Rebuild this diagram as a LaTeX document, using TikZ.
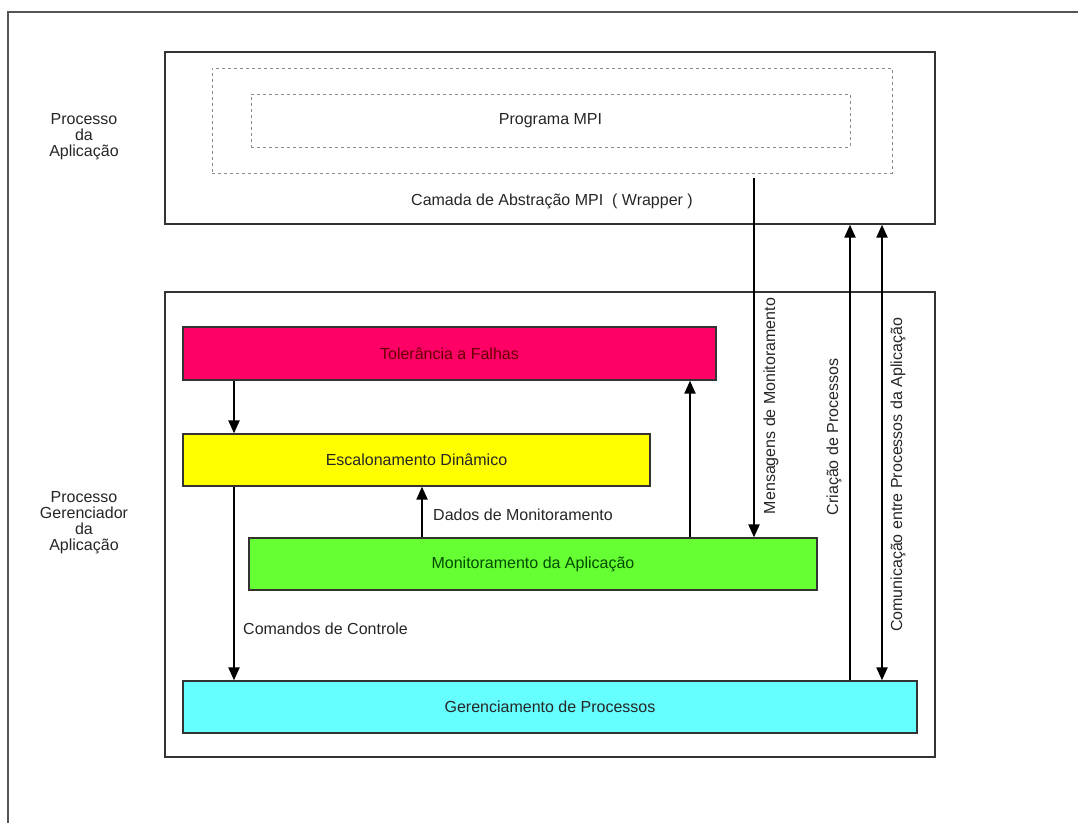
\documentclass[tikz,border=0pt]{standalone}
\usepackage{fontspec}
\setmainfont{Liberation Sans}
\usetikzlibrary{arrows.meta}
\definecolor{tolfill}{HTML}{FF0066}
\definecolor{escfill}{HTML}{FFFF00}
\definecolor{monfill}{HTML}{66FF33}
\definecolor{gerfill}{HTML}{66FFFF}
\definecolor{frameline}{HTML}{555555}
\definecolor{boxline}{HTML}{333333}
\begin{document}
\begin{tikzpicture}[x=1pt,y=-1pt,
  every node/.style={font=\fontsize{16}{16}\selectfont, text=black!85},
  region/.style={draw=boxline, line width=1.3pt, inner sep=0pt},
  dotbox/.style={draw=black!45, line width=1pt, dash pattern=on 3pt off 3pt, inner sep=0pt},
  module/.style={draw=boxline, line width=1.3pt, inner sep=0pt},
  flow/.style={line width=2.2pt, -{Triangle[length=13pt,width=11pt]}},
  plain/.style={line width=2.2pt},
  lbl/.style={inner sep=0pt}
]
\useasboundingbox (0,0) rectangle (1078,823);
% outer frame
\draw[frameline, line width=1.2pt] (8,823) -- (8,12) -- (1077.5,12);

% application process
\node[region, minimum width=770pt, minimum height=172pt] (app) at (550,138) {};
\node[dotbox, minimum width=680pt, minimum height=105pt] (wrap) at (552,120.5) {};
\node[dotbox, minimum width=599pt, minimum height=53pt] (prog) at (550.5,120.5) {Programa MPI};
\node[lbl] (wraptxt) at (552,201) {Camada de Abstração MPI\ \ ( Wrapper )};
\node[lbl, align=center] (procapp) at (84,137) {Processo\\da\\Aplicação};

% manager process
\node[region, minimum width=770pt, minimum height=465pt] (mgr) at (550,524.5) {};
\node[lbl, align=center] (procmgr) at (84,523) {Processo\\Gerenciador\\da\\Aplicação};

\node[module, fill=tolfill, minimum width=533pt, minimum height=53pt, text=black!60!red] (tol) at (449.5,353.5) {Tolerância a Falhas};
\node[module, fill=escfill, minimum width=467pt, minimum height=52pt] (esc) at (416.5,460) {Escalonamento Dinâmico};
\node[module, fill=monfill, minimum width=568pt, minimum height=52pt, text=black!70!green] (mon) at (533,564) {Monitoramento da Aplicação};
\node[module, fill=gerfill, minimum width=734pt, minimum height=52pt] (ger) at (550,707) {Gerenciamento de Processos};

% connectors inside the manager
\draw[flow] (tol.south -| 234,0) -- (esc.north -| 234,0);
\draw[flow] (esc.south -| 234,0) -- (ger.north -| 234,0);
\node[lbl, anchor=west] (cmdtxt) at (243,629) {Comandos de Controle};
\draw[flow] (mon.north -| 422,0) -- (esc.south -| 422,0);
\node[lbl, anchor=west] (dadtxt) at (433,515) {Dados de Monitoramento};
\draw[flow] (mon.north -| 690,0) -- (tol.south -| 690,0);

% connectors between the two processes
\coordinate (msgstart) at (754,178);
\draw[flow] (msgstart) -- (mon.north -| msgstart);
\node[lbl, rotate=90] (msgtxt) at (771,406) {Mensagens de Monitoramento};

\draw[flow] (ger.north -| 850,0) -- (app.south -| 850,0);
\node[lbl, rotate=90] (criatxt) at (834,437) {Criação de Processos};

\draw[flow, {Triangle[length=13pt,width=11pt]}-{Triangle[length=13pt,width=11pt]}] (app.south -| 882,0) -- (ger.north -| 882,0);
\node[lbl, rotate=90] (comtxt) at (898,475) {Comunicação entre Processos da Aplicação};
\end{tikzpicture}
\end{document}
